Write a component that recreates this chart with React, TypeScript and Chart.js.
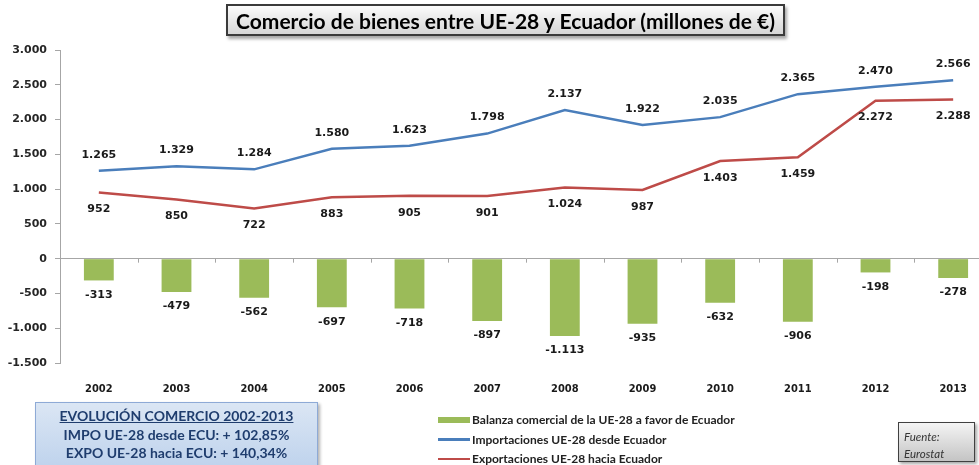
import React, { useEffect, useRef } from "react";
import { Chart, registerables } from "chart.js";

Chart.register(...registerables);

const years = ["2002", "2003", "2004", "2005", "2006", "2007", "2008", "2009", "2010", "2011", "2012", "2013"];
const balanza = [-313, -479, -562, -697, -718, -897, -1113, -935, -632, -906, -198, -278];
const importaciones = [1265, 1329, 1284, 1580, 1623, 1798, 2137, 1922, 2035, 2365, 2470, 2566];
const exportaciones = [952, 850, 722, 883, 905, 901, 1024, 987, 1403, 1459, 2272, 2288];
const yTicks = [-1500, -1000, -500, 0, 500, 1000, 1500, 2000, 2500, 3000];

const labelsLegend = [
  "Balanza comercial de la UE-28 a favor de Ecuador",
  "Importaciones UE-28 desde Ecuador",
  "Exportaciones UE-28 hacia Ecuador",
];

const GREEN = "#9BBB59";
const BLUE = "#4A7EBB";
const RED = "#BE4B48";

function fmt(v: number): string {
  const neg = v < 0;
  const s = Math.abs(Math.round(v)).toString();
  const out = s.replace(/\B(?=(\d{3})+(?!\d))/g, ".");
  return (neg ? "-" : "") + out;
}

const dataLabelPlugin = {
  id: "dataLabels",
  afterDatasetsDraw(chart: any) {
    const ctx = chart.ctx;
    ctx.save();
    ctx.font = "bold 11px 'DejaVu Sans', sans-serif";
    ctx.fillStyle = "#1a1a1a";
    ctx.textAlign = "center";
    ctx.textBaseline = "middle";
    const offsets = [14.5, -16, 17];
    chart.data.datasets.forEach((ds: any, d: number) => {
      const meta = chart.getDatasetMeta(d);
      meta.data.forEach((el: any, i: number) => {
        ctx.fillText(fmt(ds.data[i]), el.x, el.y + offsets[d]);
      });
    });
    ctx.restore();
  },
};

const zeroTicksPlugin = {
  id: "zeroTicks",
  afterDraw(chart: any) {
    const xs = chart.scales.x;
    const ys = chart.scales.y;
    const y0 = ys.getPixelForValue(0);
    const step = xs.getPixelForValue(1) - xs.getPixelForValue(0);
    const start = xs.getPixelForValue(0) - step / 2;
    const ctx = chart.ctx;
    ctx.save();
    ctx.strokeStyle = "#a6a6a6";
    ctx.lineWidth = 1;
    for (let i = 1; i <= years.length; i++) {
      const x = Math.round(start + i * step) + 0.5;
      ctx.beginPath();
      ctx.moveTo(x, y0);
      ctx.lineTo(x, y0 + 4);
      ctx.stroke();
    }
    ctx.restore();
  },
};

export default function App() {
  const ref = useRef<HTMLCanvasElement | null>(null);

  useEffect(() => {
    if (!ref.current) return;
    const chart = new Chart(ref.current, {
      type: "bar",
      data: {
        labels: years,
        datasets: [
          {
            type: "bar",
            label: labelsLegend[0],
            data: balanza,
            backgroundColor: GREEN,
            borderWidth: 0,
            categoryPercentage: 0.8,
            barPercentage: 0.48,
            order: 3,
          } as any,
          {
            type: "line",
            label: labelsLegend[1],
            data: importaciones,
            borderColor: BLUE,
            borderWidth: 2.5,
            pointRadius: 0,
            tension: 0,
            fill: false,
            order: 1,
          },
          {
            type: "line",
            label: labelsLegend[2],
            data: exportaciones,
            borderColor: RED,
            borderWidth: 2.5,
            pointRadius: 0,
            tension: 0,
            fill: false,
            order: 2,
          },
        ],
      },
      options: {
        responsive: false,
        animation: false,
        maintainAspectRatio: false,
        layout: { padding: { top: 50, right: 8, left: 0, bottom: 0 } },
        plugins: {
          legend: { display: false },
          title: { display: false },
          tooltip: { enabled: false },
        },
        scales: {
          x: {
            grid: { display: false },
            border: { display: false },
            ticks: {
              color: "#1a1a1a",
              font: { family: "'Liberation Sans Narrow', 'DejaVu Sans Condensed', sans-serif", weight: "bold", size: 11 },
              padding: 12,
              maxRotation: 0,
            },
            afterFit(scale: any) {
              scale.height = 102;
            },
          },
          y: {
            min: -1500,
            max: 3000,
            afterBuildTicks(scale: any) {
              scale.ticks = yTicks.map((v) => ({ value: v }));
            },
            ticks: {
              color: "#262626",
              font: { family: "'DejaVu Sans', sans-serif", weight: "bold", size: 11 },
              padding: 8,
              callback: (v: any) => fmt(Number(v)),
            },
            grid: {
              drawOnChartArea: true,
              color: (c: any) => (c.tick && c.tick.value === 0 ? "#a6a6a6" : "rgba(0,0,0,0)"),
              tickColor: "#a6a6a6",
              tickLength: 5,
            },
            border: { display: true, color: "#a6a6a6" },
            afterFit(scale: any) {
              scale.width = 60;
            },
          },
        },
      },
      plugins: [dataLabelPlugin, zeroTicksPlugin],
    });
    return () => chart.destroy();
  }, []);

  const lato = "Lato, 'Open Sans', sans-serif";

  return (
    <div style={{ position: "absolute", left: 0, top: 0, width: 979, height: 465, overflow: "hidden", background: "#fff" }}>
      <canvas ref={ref} width={1000} height={465} style={{ position: "absolute", left: 0, top: 0, width: 1000, height: 465 }} />
      <div
        style={{
          position: "absolute",
          left: 226,
          top: 4,
          width: 559,
          height: 32,
          boxSizing: "border-box",
          border: "2px solid #3a3a3a",
          background: "linear-gradient(#fbfbfb, #d6d6d6)",
          boxShadow: "2px 3px 3px rgba(0,0,0,0.35)",
          display: "flex",
          alignItems: "center",
          justifyContent: "center",
          fontFamily: lato,
          fontWeight: 700,
          fontSize: 21,
          color: "#000",
          whiteSpace: "nowrap",
        }}
      >
        Comercio de bienes entre UE-28 y Ecuador (millones de €)
      </div>
      <div
        style={{
          position: "absolute",
          left: 35,
          top: 402,
          width: 283,
          height: 72,
          boxSizing: "border-box",
          border: "1px solid #8eaad6",
          background: "linear-gradient(#dbe6f4, #bcd1ec)",
          boxShadow: "2px 2px 3px rgba(0,0,0,0.3)",
          fontFamily: lato,
          fontWeight: 700,
          fontSize: 14,
          color: "#1F3D6E",
          textAlign: "center",
          lineHeight: "18.5px",
          paddingTop: 4,
        }}
      >
        <div style={{ textDecoration: "underline" }}>EVOLUCIÓN COMERCIO 2002-2013</div>
        <div>IMPO UE-28 desde ECU: + 102,85%</div>
        <div>EXPO UE-28 hacia ECU: + 140,34%</div>
      </div>
      <div style={{ position: "absolute", left: 438, top: 410, fontFamily: lato, fontWeight: 700, fontSize: 12, color: "#222" }}>
        {labelsLegend.map((t, i) => (
          <div key={t} style={{ display: "flex", alignItems: "center", height: 19.5 }}>
            <span
              style={{
                display: "inline-block",
                width: 32,
                height: i === 0 ? 6 : 2.5,
                background: i === 0 ? GREEN : i === 1 ? BLUE : RED,
                marginRight: 2,
              }}
            />
            <span>{t}</span>
          </div>
        ))}
      </div>
      <div
        style={{
          position: "absolute",
          left: 898,
          top: 422,
          width: 77,
          height: 40,
          boxSizing: "border-box",
          border: "1px solid #404040",
          background: "linear-gradient(#f4f4f4, #c4c4c4)",
          boxShadow: "2px 2px 3px rgba(0,0,0,0.35)",
          fontFamily: lato,
          fontStyle: "italic",
          fontSize: 11.5,
          color: "#333",
          lineHeight: "17px",
          paddingLeft: 5,
          paddingTop: 5,
        }}
      >
        <div>Fuente:</div>
        <div>Eurostat</div>
      </div>
    </div>
  );
}
